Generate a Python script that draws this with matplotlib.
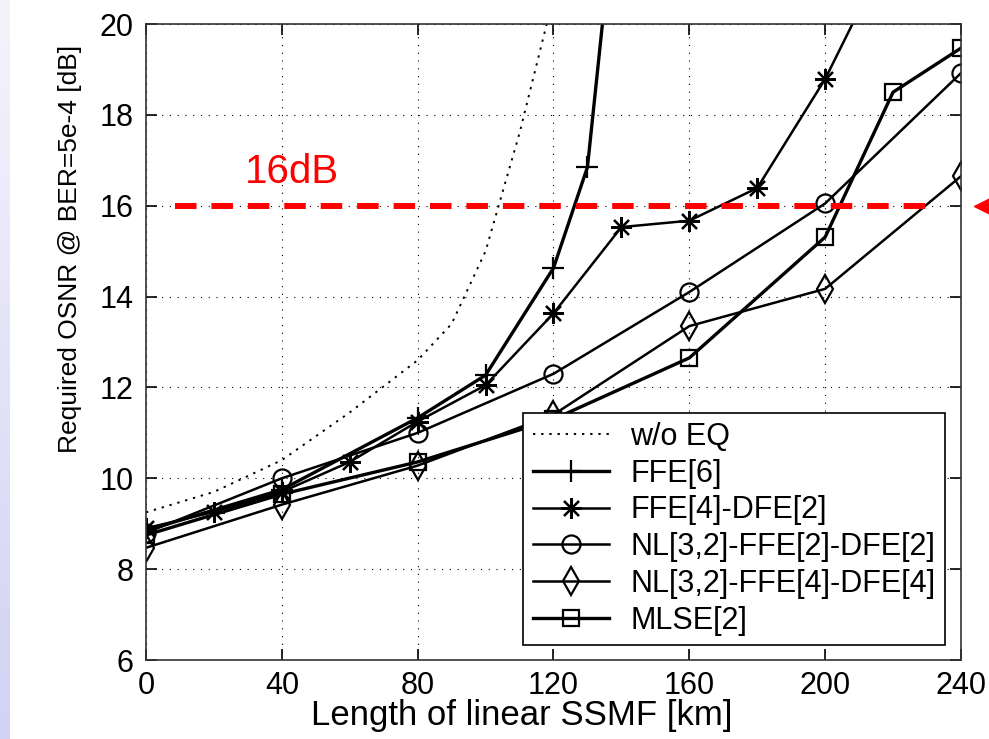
import matplotlib
matplotlib.use("Agg")
import matplotlib.pyplot as plt
import numpy as np

plt.rcParams['font.family'] = ['Liberation Sans', 'DejaVu Sans']

# data
wo_eq_x = [0, 20, 40, 60, 80, 90, 100, 110, 120]
wo_eq_y = [9.25, 9.7, 10.4, 11.45, 12.6, 13.4, 15.0, 17.6, 20.6]

ffe6_x = [0, 40, 80, 100, 120, 130, 140]
ffe6_y = [8.85, 9.75, 11.33, 12.27, 14.63, 16.85, 24.0]

ffe4dfe2_x = [0, 20, 40, 60, 80, 100, 120, 140, 160, 180, 200, 220]
ffe4dfe2_y = [8.9, 9.26, 9.7, 10.36, 11.25, 12.05, 13.63, 15.53, 15.67, 16.39, 18.79, 21.8]

nl_ffe2_x = [0, 40, 80, 120, 160, 200, 240]
nl_ffe2_y = [8.8, 10.0, 11.0, 12.3, 14.1, 16.05, 18.92]

nl_ffe4_x = [0, 40, 80, 120, 160, 200, 240]
nl_ffe4_y = [8.47, 9.42, 10.28, 11.4, 13.35, 14.17, 16.65]

mlse_x = [0, 40, 80, 120, 160, 200, 220, 240]
mlse_y = [8.75, 9.65, 10.36, 11.3, 12.65, 15.31, 18.5, 19.47]

labels = ['w/o EQ', 'FFE[6]', 'FFE[4]-DFE[2]', 'NL[3,2]-FFE[2]-DFE[2]',
          'NL[3,2]-FFE[4]-DFE[4]', 'MLSE[2]']

threshold = 16
threshold_span = [8.5, 232]
x_ticks = [0, 40, 80, 120, 160, 200, 240]
y_ticks = [6, 8, 10, 12, 14, 16, 18, 20]

fig = plt.figure(figsize=(9.89, 7.39), dpi=100)

# lavender strip on the left edge
strip = fig.add_axes([0, 0, 10 / 989, 1])
grad = np.linspace(0, 1, 256).reshape(-1, 1)
strip.imshow(grad, aspect='auto', cmap=matplotlib.colors.LinearSegmentedColormap.from_list(
    'lav', ['#f4f4fc', '#d2d2f4']), origin='upper')
strip.axis('off')

ax = fig.add_axes([146 / 989, 1 - 660 / 739, 815 / 989, 636 / 739])

mkw = dict(color='black', markerfacecolor='none', markeredgecolor='black', markeredgewidth=1.6)
ax.plot(wo_eq_x, wo_eq_y, color='black', lw=1.4, ls=(0, (1.2, 3)), label=labels[0])
ax.plot(ffe6_x, ffe6_y, lw=2.4, marker='+', ms=16, label=labels[1], **mkw)
ax.plot(ffe4dfe2_x, ffe4dfe2_y, lw=1.8, marker=(8, 2, 0), ms=15, label=labels[2], **mkw)
ax.plot(nl_ffe2_x, nl_ffe2_y, lw=1.8, marker='o', ms=13, label=labels[3], **mkw)
ax.plot(nl_ffe4_x, nl_ffe4_y, lw=1.8, marker='d', ms=14, label=labels[4], **mkw)
ax.plot(mlse_x, mlse_y, lw=2.4, marker='s', ms=12, label=labels[5], **mkw)

# 16 dB reference
ax.plot(threshold_span, [threshold, threshold], color='red', lw=4.3, ls=(0, (3.6, 2.5)), zorder=5)
ax.text(29, 16.5, '16dB', color='red', fontsize=29)
ax.plot([246.8], [threshold], marker='<', color='red', ms=14, clip_on=False)

ax.set_xlim(0, 240)
ax.set_ylim(6, 20)
ax.set_xticks(x_ticks)
ax.set_yticks(y_ticks)
ax.grid(True, color='black', lw=0.8, ls=(0, (1, 6)))
ax.tick_params(direction='in', length=8, width=1.2, top=True, right=True, labelsize=22)
ax.tick_params(axis='y', pad=9)
ax.tick_params(axis='x', pad=8)
for s in ax.spines.values():
    s.set_linewidth(1.2)
    s.set_color('#333333')

ax.set_xlabel('Length of linear SSMF [km]', fontsize=25)
ax.set_ylabel('Required OSNR @ BER=5e-4 [dB]', fontsize=19)
ax.xaxis.set_label_coords(0.461, -0.0607)
ax.yaxis.set_label_coords(-0.0785, 0.646)

leg = ax.legend(loc='lower right', bbox_to_anchor=(0.98, 0.024), fontsize=22,
                frameon=True, fancybox=False, framealpha=1, edgecolor='black',
                handlelength=2.5, handletextpad=0.7, labelspacing=0.22, borderpad=0.3,
                borderaxespad=0)
leg.get_frame().set_linewidth(1.2)

fig.savefig('out.png', dpi=100)
